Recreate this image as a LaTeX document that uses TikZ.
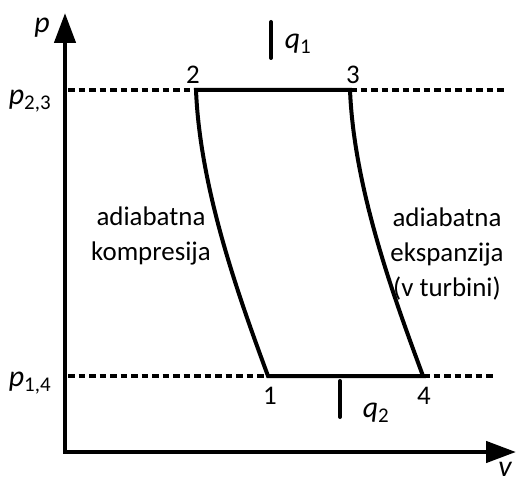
\documentclass[tikz,border=0pt]{standalone}
\usepackage{fontspec}
\setmainfont{Carlito}
\usetikzlibrary{arrows.meta,positioning,calc}

\begin{document}
\begin{tikzpicture}[
  x=1bp,y=-1bp,
  >={Triangle[length=30bp,width=21bp]},
  axis/.style={line width=4.5bp},
  iso/.style={line width=4bp,dash pattern=on 6.5bp off 4bp},
  proc/.style={line width=4bp,line join=miter},
  heat/.style={line width=4bp,line cap=round},
  lbl/.style={font=\fontsize{27}{35}\selectfont,inner sep=0pt,align=center},
  sym/.style={font=\fontsize{30}{35}\selectfont,inner sep=0pt}
]
  \useasboundingbox (0,0) rectangle (516,478);

  % Axes
  \coordinate (O) at (65,452);
  \coordinate (ytip) at (65,13);
  \coordinate (xtip) at (516,452);
  \draw[axis,<->] (ytip) -- (O) -- (xtip);
  \node[sym] (plab) at (42,28) {\itshape p};
  \node[sym] (vlab) at (505,469) {\itshape v};

  % Cycle corners
  \coordinate (p1) at (268,376);
  \coordinate (p2) at (196,90);
  \coordinate (p3) at (350,90);
  \coordinate (p4) at (423,376);

  % Isobars
  \coordinate (top0) at (68,90);
  \coordinate (top1) at (505,90);
  \coordinate (bot0) at (68,376);
  \coordinate (bot1) at (495,376);
  \draw[iso] (top0) -- (p2);
  \draw[iso] (p3) -- (top1);
  \draw[iso] (bot0) -- (p1);
  \draw[iso] (p4) -- (bot1);
  \node[sym] (p23) at (30,101) {{\itshape p}\textsubscript{2,3}};
  \node[sym] (p14) at (30,383) {{\itshape p}\textsubscript{1,4}};

  % Cycle
  \draw[proc] (p1) .. controls (240,300) and (200,190) .. (p2)
    -- (p3) .. controls (354,190) and (395,300) .. (p4) -- cycle;
  \node[lbl,above=6bp of p2,xshift=-3bp] (n2) {2};
  \node[lbl,above=6bp of p3,xshift=3bp] (n3) {3};
  \node[lbl,below=11bp of p1,xshift=2bp] (n1) {1};
  \node[lbl,below=11bp of p4,xshift=1bp] (n4) {4};

  % Heat
  \coordinate (q1a) at (271,22);
  \coordinate (q1b) at (271,58);
  \coordinate (q2a) at (340,381);
  \coordinate (q2b) at (340,417);
  \draw[heat] (q1a) -- (q1b);
  \draw[heat] (q2a) -- (q2b);
  \node[sym] (q1) at (298,44) {{\itshape q}\textsubscript{1}};
  \node[sym] (q2) at (376,413) {{\itshape q}\textsubscript{2}};

  % Process labels
  \node[lbl] (komp) at (151,236) {adiabatna\\kompresija};
  \node[lbl] (eksp) at (447,254) {adiabatna\\ekspanzija\\(v turbini)};
\end{tikzpicture}
\end{document}
